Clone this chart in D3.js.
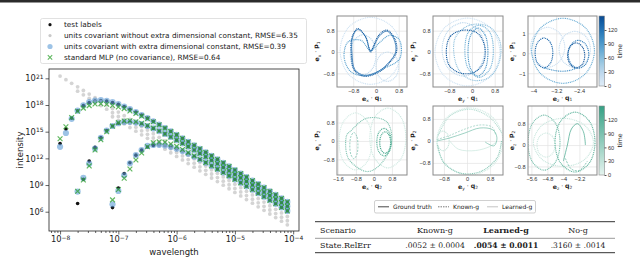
<!DOCTYPE html>
<html>
<head>
<meta charset="utf-8">
<script src="https://cdn.jsdelivr.net/npm/d3@7"></script>
<style>
  body { margin: 0; background: #fff; }
  svg { display: block; font-family: "DejaVu Sans", sans-serif; }
</style>
</head>
<body>
<div id="chart"></div>
<script>
// ---- left panel: black body intensity (log10 values) ----
const wavelength = [1.00e-8, 1.26e-8, 1.58e-8, 2.00e-8, 2.51e-8, 3.16e-8, 3.98e-8, 5.01e-8, 6.31e-8, 7.94e-8,
                    1.00e-7, 1.26e-7, 1.58e-7, 2.00e-7, 2.51e-7, 3.16e-7, 3.98e-7, 5.01e-7, 6.31e-7, 7.94e-7,
                    1.00e-6, 1.26e-6, 1.58e-6, 2.00e-6, 2.51e-6, 3.16e-6, 3.98e-6, 5.01e-6, 6.31e-6, 7.94e-6,
                    1.00e-5, 1.26e-5, 1.58e-5, 2.00e-5, 2.51e-5, 3.16e-5, 3.98e-5, 5.01e-5, 6.31e-5, 7.94e-5];
const curveStart = [0, 3, 9];   // first wavelength index of the three temperatures

const labelsHot  = [13.66,15.30,16.51,17.36,17.93,18.28,18.46,18.50,18.44,18.29,18.08,17.82,17.53,17.21,16.87,16.52,16.16,15.79,15.41,15.03,14.64,14.25,13.86,13.47,13.08,12.68,12.28,11.89,11.49,11.09,10.69,10.29,9.89,9.49,9.10,8.70,8.30,7.90,7.50,7.10];
const labelsMid  = [6.92,9.64,11.70,13.23,14.34,15.13,15.64,15.95,16.10,16.11,16.02,15.86,15.64,15.37,15.07,14.75,14.41,14.05,13.69,13.32,12.94,12.56,12.17,11.78,11.39,10.99,10.60,10.20,9.81,9.41,9.01,8.61,8.21,7.81,7.42,7.02,6.62];
const labelsCool = [6.46,8.66,10.30,11.51,12.36,12.93,13.28,13.46,13.50,13.44,13.29,13.08,12.82,12.53,12.21,11.87,11.52,11.16,10.79,10.41,10.03,9.64,9.25,8.86,8.47,8.08,7.68,7.28,6.89,6.49,6.09];

const noConstHot  = [21.25,20.85,20.44,20.04,19.63,19.23,18.82,18.42,18.01,17.61,17.20,16.80,16.39,15.99,15.58,15.18,14.77,14.37,13.96,13.56,13.15,12.75,12.34,11.94,11.53,11.13,10.72,10.32,9.91,9.51,9.10,8.70,8.29,7.89,7.48,7.08,6.67,6.27,5.86,5.46];
const noConstMid  = [19.56,19.15,18.75,18.34,17.94,17.53,17.13,16.72,16.32,15.91,15.51,15.10,14.70,14.29,13.89,13.48,13.08,12.67,12.27,11.86,11.46,11.05,10.65,10.24,9.84,9.43,9.03,8.62,8.22,7.81,7.41,7.00,6.60,6.19,5.79,5.38,4.98];
const noConstCool = [16.68,16.27,15.87,15.46,15.06,14.65,14.25,13.84,13.44,13.03,12.63,12.22,11.82,11.41,11.01,10.60,10.20,9.79,9.39,8.98,8.58,8.17,7.77,7.36,6.96,6.55,6.15,5.74,5.34,4.93,4.53];

const withConstHot  = [13.30,14.85,16.45,17.36,17.95,18.32,18.50,18.54,18.48,18.32,18.10,17.83,17.53,17.21,16.87,16.52,16.16,15.79,15.41,15.03,14.64,14.25,13.86,13.47,13.08,12.68,12.28,11.89,11.49,11.09,10.69,10.29,9.89,9.49,9.10,8.70,8.30,7.90,7.50,7.10];
const withConstMid  = [8.26,9.80,11.40,13.10,14.30,15.13,15.64,15.95,16.10,16.11,16.02,15.86,15.64,15.37,15.07,14.75,14.41,14.05,13.69,13.32,12.94,12.56,12.17,11.78,11.39,10.99,10.60,10.20,9.81,9.41,9.01,8.61,8.21,7.81,7.42,7.02,6.62];
const withConstCool = [6.84,8.34,10.10,11.45,12.38,12.94,13.40,13.50,13.52,13.46,13.30,13.08,12.82,12.53,12.21,11.87,11.52,11.16,10.79,10.41,10.03,9.64,9.25,8.86,8.47,8.08,7.68,7.28,6.89,6.49,6.09];

const mlpHot  = [14.20,15.56,16.60,17.30,17.65,17.93,18.11,18.15,18.09,17.94,17.78,17.60,17.33,17.05,16.75,16.45,16.12,15.77,15.40,15.03,14.64,14.25,13.86,13.47,13.08,12.68,12.28,11.89,11.49,11.09,10.69,10.29,9.89,9.49,9.10,8.70,8.30,7.90,7.50,7.10];
const mlpMid  = [8.30,9.57,11.15,12.95,14.10,15.00,15.62,16.02,16.20,16.22,16.12,15.95,15.70,15.40,15.08,14.75,14.41,14.05,13.69,13.32,12.94,12.56,12.17,11.78,11.39,10.99,10.60,10.20,9.81,9.41,9.01,8.61,8.21,7.81,7.42,7.02,6.62];
const mlpCool = [7.33,8.50,9.76,10.80,11.82,12.60,13.30,13.75,13.85,13.82,13.62,13.35,13.00,12.65,12.28,11.90,11.52,11.16,10.79,10.41,10.03,9.64,9.25,8.86,8.47,8.08,7.68,7.28,6.89,6.49,6.09];

const legendNames = ["test labels",
                     "units covariant without extra dimensional constant, RMSE=6.35",
                     "units covariant with extra dimensional constant, RMSE=0.39",
                     "standard MLP (no covariance), RMSE=0.64"];
const xMajor = [1e-8, 1e-7, 1e-6, 1e-5, 1e-4];
const yMajor = [1e6, 1e9, 1e12, 1e15, 1e18, 1e21];

// ---- right panels: trajectories (points in panel data units, t = time) ----
const p1Loops = [
  {t: 15, s: "dot", pts: [[0.88,0.05],[0.57,0.94],[-0.19,1.30],[-0.95,0.94],[-1.26,0.05],[-0.95,-0.85],[-0.19,-1.21],[0.57,-0.85]]},
  {t: 30, s: "dot", pts: [[0,-0.1],[-0.13,0.43],[-0.45,0.65],[-0.77,0.43],[-0.9,-0.1],[-0.77,-0.63],[-0.45,-0.85],[-0.13,-0.63]]},
  {t: 25, s: "dot", pts: [[0.8,-0.55],[0.68,-0.16],[0.4,0],[0.12,-0.16],[0,-0.55],[0.12,-0.94],[0.4,-1.1],[0.68,-0.94]]},
  {t: 85, s: "dot", pts: [[-0.19,0.06],[-0.53,0.44],[-0.98,0.38],[-1.12,-0.19],[-0.87,-0.75],[-0.30,-0.88],[0.27,-0.62],[0.83,-0.25],[0.83,0.44],[0.49,0.63],[0.15,0.38]]},
  {t: 140, s: "dot", pts: [[-0.19,0],[-0.36,0.56],[-0.64,0.88],[-0.84,0.56],[-0.87,-0.06],[-0.76,-0.69],[-0.41,-0.91],[0.10,-0.75],[0.44,-0.44],[0.72,0],[0.66,0.50],[0.38,0.82],[0.10,0.63],[-0.10,0.19]]},
  {t: 130, s: "solid", pts: [[-0.19,0.03],[-0.38,0.6],[-0.64,0.84],[-0.82,0.56],[-0.84,-0.06],[-0.74,-0.66],[-0.41,-0.87],[0.10,-0.71],[0.44,-0.40],[0.69,0],[0.63,0.48],[0.38,0.78],[0.12,0.6],[-0.08,0.2]]}
];
const p2Loops = [
  {t: 15, s: "dot", pts: [[0.98,0],[0.65,0.9],[-0.16,1.27],[-0.97,0.9],[-1.3,0],[-0.97,-0.9],[-0.16,-1.27],[0.65,-0.9]]},
  {t: 30, s: "dot", pts: [[0.45,0.1],[0.23,0.81],[-0.3,1.1],[-0.83,0.81],[-1.05,0.1],[-0.83,-0.61],[-0.3,-0.9],[0.23,-0.61]]},
  {t: 55, s: "dot", pts: [[-0.6,0.5],[-0.1,1.0],[0.6,0.95],[0.98,0.4],[0.95,-0.4],[0.6,-0.95],[0,-1.05],[-0.5,-0.6]]},
  {t: 70, s: "dot", pts: [[0.75,0.05],[0.62,0.75],[0.25,1.0],[-0.12,0.75],[-0.25,0.05],[-0.12,-0.65],[0.25,-0.95],[0.62,-0.65]]},
  {t: 95, s: "dot", pts: [[0.56,0],[0.46,0.64],[0.21,0.9],[-0.04,0.64],[-0.14,0],[-0.04,-0.64],[0.21,-0.9],[0.46,-0.64]]},
  {t: 140, s: "dot", pts: [[-0.9,0.1],[-0.75,0.6],[-0.3,0.82],[0.2,0.7],[0.45,0.2],[0.4,-0.4],[0.1,-0.75],[-0.4,-0.79],[-0.8,-0.5]]}
];
const p3Loops = [
  {t: 20, s: "dot", pts: [[-2.9,0.3],[-3.08,1.0],[-3.5,1.3],[-3.92,1.0],[-4.1,0.3],[-3.92,-0.4],[-3.5,-0.7],[-3.08,-0.4]]},
  {t: 25, s: "dot", pts: [[-2.0,0.2],[-2.16,0.84],[-2.55,1.1],[-2.94,0.84],[-3.1,0.2],[-2.94,-0.44],[-2.55,-0.7],[-2.16,-0.44]]},
  {t: 75, s: "dot", pts: [[-1.86,0.125],[-2.18,1.28],[-2.96,1.755],[-3.74,1.28],[-4.06,0.125],[-3.74,-1.03],[-2.96,-1.505],[-2.18,-1.03]]},
  {t: 130, s: "dot", pts: [[-3.32,0.02],[-3.41,0.55],[-3.63,0.77],[-3.85,0.55],[-3.94,0.02],[-3.85,-0.51],[-3.63,-0.73],[-3.41,-0.51]]},
  {t: 115, s: "dot", pts: [[-2.06,-0.05],[-2.17,0.45],[-2.42,0.65],[-2.67,0.45],[-2.78,-0.05],[-2.67,-0.55],[-2.42,-0.75],[-2.17,-0.55]]},
  {t: 145, s: "dot", pts: [[-2.2,-0.11],[-2.29,0.34],[-2.5,0.52],[-2.71,0.34],[-2.8,-0.11],[-2.71,-0.56],[-2.5,-0.74],[-2.29,-0.56]]},
  {t: 100, s: "dot", open: true, pts: [[-3.63,-0.73],[-3.3,-0.85],[-3.0,-0.9],[-2.7,-0.85],[-2.5,-0.74]]}
];
const p4Loops = [
  {t: 15, s: "dot", pts: [[-0.09,-0.02],[-0.30,0.86],[-0.82,1.22],[-1.34,0.86],[-1.55,-0.02],[-1.34,-0.90],[-0.82,-1.26],[-0.30,-0.90]]},
  {t: 20, s: "dot", pts: [[1.42,0.13],[1.19,1.05],[0.62,1.43],[0.05,1.05],[-0.18,0.13],[0.05,-0.79],[0.62,-1.17],[1.19,-0.79]]},
  {t: 85, s: "dot", pts: [[-1.07,0.40],[-0.32,0.99],[0.56,0.84],[0.79,-0.03],[0.27,-1.04],[-0.32,-1.33],[-1.14,-0.75],[-1.21,0.26]]},
  {t: 100, s: "dash", pts: [[-0.71,-0.2],[-0.76,0.2],[-0.89,0.37],[-1.02,0.2],[-1.07,-0.2],[-1.02,-0.6],[-0.89,-0.77],[-0.76,-0.6]]},
  {t: 120, s: "dot", pts: [[0.77,-0.05],[0.68,0.37],[0.45,0.55],[0.22,0.37],[0.13,-0.05],[0.22,-0.47],[0.45,-0.65],[0.68,-0.47]]},
  {t: 140, s: "dot", pts: [[0.74,-0.07],[0.67,0.26],[0.5,0.40],[0.33,0.26],[0.26,-0.07],[0.33,-0.4],[0.5,-0.54],[0.67,-0.4]]}
];
const p5Loops = [
  {t: 15, s: "dot", pts: [[1.25,-0.02],[0.91,0.84],[0.10,1.20],[-0.71,0.84],[-1.05,-0.02],[-0.71,-0.88],[0.10,-1.24],[0.91,-0.88]]},
  {t: 30, s: "dot", pts: [[-0.62,0],[-0.68,0.25],[-0.83,0.36],[-0.98,0.25],[-1.04,0],[-0.98,-0.25],[-0.83,-0.36],[-0.68,-0.25]]},
  {t: 40, s: "dot", open: true, pts: [[-1.0,0.2],[-0.6,0.9],[0.1,1.15],[0.8,0.85],[1.2,0.3]]},
  {t: 25, s: "solid", open: true, pts: [[-0.6,0],[-0.3,-0.3],[0.3,-0.35],[0.8,-0.2],[1.0,-0.05]]},
  {t: 80, s: "dot", open: true, pts: [[-1.02,-0.15],[-0.8,-0.8],[-0.2,-1.18],[0.5,-1.1],[1.05,-0.6],[1.2,0]]},
  {t: 70, s: "dash", open: true, pts: [[-1.04,0.05],[-0.6,0.2],[-0.1,0.42],[0.45,0.58],[0.88,0.5],[1.0,0.2]]},
  {t: 95, s: "solid", open: true, pts: [[-1.04,0],[-0.59,0.11],[-0.07,0.29],[0.45,0.47],[0.90,0.40],[1.04,0.11],[0.94,-0.18],[0.63,-0.04]]}
];
const p6Loops = [
  {t: 25, s: "dot", pts: [[-2.5,0.1],[-2.94,0.74],[-4.0,1.0],[-5.06,0.74],[-5.5,0.1],[-5.06,-0.54],[-4.0,-0.8],[-2.94,-0.54]]},
  {t: 20, s: "dot", pts: [[-4.42,0],[-4.55,0.32],[-4.87,0.45],[-5.19,0.32],[-5.32,0],[-5.19,-0.32],[-4.87,-0.45],[-4.55,-0.32]]},
  {t: 90, s: "dot", pts: [[-4.17,0.09],[-4.40,0.82],[-4.97,1.12],[-5.54,0.82],[-5.77,0.09],[-5.54,-0.64],[-4.97,-0.94],[-4.40,-0.64]]},
  {t: 110, s: "dot", pts: [[-2.42,0.11],[-2.71,0.90],[-3.42,1.23],[-4.13,0.90],[-4.42,0.11],[-4.13,-0.68],[-3.42,-1.01],[-2.71,-0.68]]},
  {t: 120, s: "dash", open: true, pts: [[-3.9,-0.5],[-3.6,-0.9],[-3.2,-0.95],[-2.8,-0.6]]},
  {t: 140, s: "solid", open: true, pts: [[-4.0,-0.6],[-3.8,0.0],[-3.6,0.6],[-3.3,0.8],[-3.0,0.5],[-2.9,0]]}
];

const panels = [
  {box: [337, 16, 407, 87],  xd: [-1.37, 1.09], yd: [-1.31, 1.35], xt: [-0.8, 0, 0.8], yt: [-0.8, 0, 0.8], ax: "x", n: 1, loops: p1Loops, ylx: 319},
  {box: [433, 16, 503, 87],  xd: [-1.37, 1.09], yd: [-1.31, 1.35], xt: [-0.8, 0, 0.8], yt: [-0.8, 0, 0.8], ax: "y", n: 1, loops: p2Loops, ylx: 415},
  {box: [528, 16, 597, 87],  xd: [-4.19, -1.77], yd: [-1.69, 1.87], xt: [-4, -3.2, -2.4], yt: [-1, 0, 1], ax: "z", n: 1, loops: p3Loops, ylx: 514},
  {box: [337, 106, 407, 175], xd: [-1.64, 1.47], yd: [-1.48, 1.52], xt: [-1.6, -0.8, 0, 0.8], yt: [-0.8, 0, 0.8], ax: "x", n: 2, loops: p4Loops, ylx: 319},
  {box: [433, 106, 503, 175], xd: [-1.18, 1.25], yd: [-1.24, 1.27], xt: [-0.8, 0, 0.8], yt: [-0.8, 0, 0.8], ax: "y", n: 2, loops: p5Loops, ylx: 415},
  {box: [528, 106, 597, 175], xd: [-5.77, -2.32], yd: [-1.12, 1.46], xt: [-5.6, -4.8, -4, -3.2], yt: [-0.8, 0, 0.8], ax: "z", n: 2, loops: p6Loops, ylx: 514}
];
const timeTicks = [0, 30, 60, 90, 120];
const legendRight = ["Ground truth", "Known-g", "Learned-g"];
const tableHead = ["Scenario", "Known-g", "Learned-g", "No-g"];
const tableRow  = ["State.RelErr", ".0052 \u00b1 0.0004", ".0054 \u00b1 0.0011", ".3160 \u00b1 .0014"];

// ---------------------------------------------------------------------------
const W = 640, H = 267;
const svg = d3.select("#chart").append("svg").attr("width", W).attr("height", H);

svg.append("rect").attr("x", 0).attr("y", 0).attr("width", W).attr("height", 2.5).attr("fill", "#2b2b2b");

// ----- left scatter -----
const plot = {left: 49, right: 299, top: 69, bottom: 231};
const xScale = d3.scaleLog().domain([Math.pow(10, -8.19), Math.pow(10, -3.9)]).range([plot.left, plot.right]);
const yScale = d3.scaleLog().domain([Math.pow(10, 3.83), Math.pow(10, 22.05)]).range([plot.bottom, plot.top]);

function powLabel(sel) {
  sel.each(function(d) {
    const t = d3.select(this).text(null);
    const e = Math.round(Math.log10(d));
    t.append("tspan").text("10");
    t.append("tspan").attr("dy", "-0.45em").attr("font-size", "0.72em").text(e < 0 ? "\u2212" + (-e) : e);
  });
}

const left = svg.append("g");
left.append("clipPath").attr("id", "clipL").append("rect")
  .attr("x", plot.left).attr("y", plot.top)
  .attr("width", plot.right - plot.left).attr("height", plot.bottom - plot.top);

function series(vals, start) {
  return vals.map((v, i) => ({x: wavelength[start + i], y: Math.pow(10, v)}));
}
const labelPts   = [].concat(series(labelsHot, curveStart[0]), series(labelsMid, curveStart[1]), series(labelsCool, curveStart[2]));
const noConstPts = [].concat(series(noConstHot, curveStart[0]), series(noConstMid, curveStart[1]), series(noConstCool, curveStart[2]));
const withPts    = [].concat(series(withConstHot, curveStart[0]), series(withConstMid, curveStart[1]), series(withConstCool, curveStart[2]));
const mlpPts     = [].concat(series(mlpHot, curveStart[0]), series(mlpMid, curveStart[1]), series(mlpCool, curveStart[2]));

const marks = left.append("g").attr("clip-path", "url(#clipL)");
marks.selectAll("circle.lab").data(labelPts).join("circle").attr("class", "lab")
  .attr("cx", d => xScale(d.x)).attr("cy", d => yScale(d.y)).attr("r", 1.8).attr("fill", "#111");
marks.selectAll("circle.gray").data(noConstPts).join("circle").attr("class", "gray")
  .attr("cx", d => xScale(d.x)).attr("cy", d => yScale(d.y)).attr("r", 1.9).attr("fill", "#c9c9c9").attr("opacity", 0.8);
marks.selectAll("circle.wc").data(withPts).join("circle").attr("class", "wc")
  .attr("cx", d => xScale(d.x)).attr("cy", d => yScale(d.y)).attr("r", 3.1).attr("fill", "#5b9bd5").attr("opacity", 0.6);
const xs = 2.4;
marks.selectAll("path.mlp").data(mlpPts).join("path").attr("class", "mlp")
  .attr("d", d => {
    const cx = xScale(d.x), cy = yScale(d.y);
    return `M${cx - xs},${cy - xs}L${cx + xs},${cy + xs}M${cx - xs},${cy + xs}L${cx + xs},${cy - xs}`;
  })
  .attr("stroke", "#2ca02c").attr("stroke-width", 1.2).attr("opacity", 0.75).attr("fill", "none");

// axes
const xAxis = d3.axisBottom(xScale).tickValues(xMajor).tickSize(3.5).tickPadding(2);
const gx = left.append("g").attr("transform", `translate(0,${plot.bottom})`).call(xAxis);
gx.selectAll(".tick text").call(powLabel);
const minors = [];
for (let e = -9; e <= -4; e++) for (let m = 2; m <= 9; m++) {
  const v = m * Math.pow(10, e);
  if (v > xScale.domain()[0] && v < xScale.domain()[1]) minors.push(v);
}
left.append("g").attr("transform", `translate(0,${plot.bottom})`)
  .call(d3.axisBottom(xScale).tickValues(minors).tickSize(2).tickFormat(""))
  .call(g => g.select(".domain").remove());
const gy = left.append("g").attr("transform", `translate(${plot.left},0)`)
  .call(d3.axisLeft(yScale).tickValues(yMajor).tickSize(3.5).tickPadding(2));
gy.selectAll(".tick text").call(powLabel);
left.selectAll(".tick text").attr("font-size", 8.3).attr("font-family", "DejaVu Sans").attr("fill", "#222");
left.selectAll(".tick line").attr("stroke", "#222").attr("stroke-width", 0.7);
left.selectAll(".domain").remove();
left.append("rect").attr("x", plot.left).attr("y", plot.top)
  .attr("width", plot.right - plot.left).attr("height", plot.bottom - plot.top)
  .attr("fill", "none").attr("stroke", "#222").attr("stroke-width", 0.8);

left.append("text").attr("x", (plot.left + plot.right) / 2).attr("y", 254.5)
  .attr("text-anchor", "middle").attr("font-size", 8.5).attr("fill", "#222").text("wavelength");
left.append("text").attr("transform", `translate(22.5,${(plot.top + plot.bottom) / 2}) rotate(-90)`)
  .attr("text-anchor", "middle").attr("font-size", 8.5).attr("fill", "#222").text("intensity");

// legend
const lg = left.append("g");
lg.append("rect").attr("x", 40.5).attr("y", 18.5).attr("width", 266).attr("height", 45).attr("rx", 2)
  .attr("fill", "#fff").attr("stroke", "#d9d9d9").attr("stroke-width", 0.8);
const rowsY = [24.7, 35.6, 46.5, 57.4];
lg.selectAll("text").data(legendNames).join("text")
  .attr("x", 64).attr("y", (d, i) => rowsY[i] + 2.7).attr("font-size", 7.3).attr("fill", "#222").text(d => d);
lg.append("circle").attr("cx", 50).attr("cy", rowsY[0]).attr("r", 1.6).attr("fill", "#111");
lg.append("circle").attr("cx", 50).attr("cy", rowsY[1]).attr("r", 1.6).attr("fill", "#c9c9c9");
lg.append("circle").attr("cx", 50).attr("cy", rowsY[2]).attr("r", 2.6).attr("fill", "#5b9bd5").attr("opacity", 0.6);
lg.append("path").attr("d", `M${50 - 2.2},${rowsY[3] - 2.2}L${50 + 2.2},${rowsY[3] + 2.2}M${50 - 2.2},${rowsY[3] + 2.2}L${50 + 2.2},${rowsY[3] - 2.2}`)
  .attr("stroke", "#2ca02c").attr("stroke-width", 1.1).attr("opacity", 0.75);

// ----- right trajectory panels -----
const blueColor = t => d3.interpolateBlues(0.12 + 0.78 * t / 150);
const tealColor = t => d3.interpolateRgb("#eef8f4", "#36a084")(0.05 + 0.95 * t / 150);

function vecLabel(text, ax, v, n) {
  text.append("tspan").attr("font-weight", "bold").text("e");
  text.append("tspan").attr("font-size", "0.7em").attr("dy", "0.35em").text(ax);
  text.append("tspan").attr("dy", "-0.35em").text(" \u00b7 ");
  text.append("tspan").attr("font-weight", "bold").text(v);
  text.append("tspan").attr("font-size", "0.7em").attr("dy", "0.35em").text(n);
}
const fmt = d => d === 0 ? "0" : String(d).replace("-", "\u2212");

panels.forEach((p, idx) => {
  const [x0, y0, x1, y1] = p.box;
  const color = p.n === 1 ? blueColor : tealColor;
  const g = svg.append("g");
  const x = d3.scaleLinear().domain(p.xd).range([x0, x1]);
  const y = d3.scaleLinear().domain(p.yd).range([y1, y0]);
  g.append("clipPath").attr("id", "cp" + idx).append("rect")
    .attr("x", x0).attr("y", y0).attr("width", x1 - x0).attr("height", y1 - y0);

  g.append("g").attr("transform", `translate(0,${y1})`)
    .call(d3.axisBottom(x).tickValues(p.xt).tickSize(-(y1 - y0)).tickPadding(1.8).tickFormat(fmt));
  g.append("g").attr("transform", `translate(${x0},0)`)
    .call(d3.axisLeft(y).tickValues(p.yt).tickSize(-(x1 - x0)).tickPadding(2.5).tickFormat(fmt));
  g.selectAll(".domain").remove();
  g.selectAll(".tick line").attr("stroke", "#e3e3e3").attr("stroke-width", 0.7);
  g.selectAll(".tick text").attr("font-size", 5.6).attr("fill", "#333");

  const body = g.append("g").attr("clip-path", `url(#cp${idx})`);
  p.loops.forEach(l => {
    const line = d3.line().x(d => x(d[0])).y(d => y(d[1]))
      .curve(l.open ? d3.curveCatmullRom : d3.curveCatmullRomClosed);
    body.append("path").attr("d", line(l.pts)).attr("fill", "none")
      .attr("stroke", color(l.t))
      .attr("stroke-width", l.s === "dot" ? 1.15 : 0.7)
      .attr("stroke-dasharray", l.s === "dot" ? "1,0.8" : l.s === "dash" ? "2,1.2" : null);
  });

  g.append("rect").attr("x", x0).attr("y", y0).attr("width", x1 - x0).attr("height", y1 - y0)
    .attr("fill", "none").attr("stroke", "#8a8a8a").attr("stroke-width", 1);

  const xl = g.append("text").attr("x", (x0 + x1) / 2).attr("y", y1 + 13.5).attr("text-anchor", "middle")
    .attr("font-size", 6.2).attr("fill", "#222");
  vecLabel(xl, p.ax, "q", p.n);
  const yl = g.append("text").attr("transform", `translate(${p.ylx},${(y0 + y1) / 2}) rotate(-90)`)
    .attr("text-anchor", "middle").attr("font-size", 6.2).attr("fill", "#222");
  vecLabel(yl, p.ax, "p", p.n);
});

// colorbars
[{y0: 16, y1: 86, c: blueColor, id: "cbB"}, {y0: 106, y1: 175, c: tealColor, id: "cbT"}].forEach(cb => {
  const grad = svg.append("defs").append("linearGradient").attr("id", cb.id)
    .attr("x1", 0).attr("y1", 1).attr("x2", 0).attr("y2", 0);
  d3.range(0, 151, 15).forEach(t => grad.append("stop").attr("offset", t / 150).attr("stop-color", cb.c(t)));
  const ts = d3.scaleLinear().domain([0, 150]).range([cb.y1, cb.y0]);
  svg.append("rect").attr("x", 599).attr("y", cb.y0).attr("width", 5.5).attr("height", cb.y1 - cb.y0)
    .attr("fill", `url(#${cb.id})`).attr("stroke", "#8a8a8a").attr("stroke-width", 0.6);
  const ga = svg.append("g").attr("transform", "translate(604.5,0)")
    .call(d3.axisRight(ts).tickValues(timeTicks).tickSize(2).tickPadding(1.5));
  ga.select(".domain").remove();
  ga.selectAll("text").attr("font-size", 5.6).attr("fill", "#333");
  ga.selectAll("line").attr("stroke", "#555");
  svg.append("text").attr("transform", `translate(622,${(cb.y0 + cb.y1) / 2}) rotate(-90)`)
    .attr("text-anchor", "middle").attr("font-size", 6.2).attr("fill", "#222").text("time");
});

// right legend
const rl = svg.append("g");
rl.append("rect").attr("x", 374.5).attr("y", 200.5).attr("width", 161).attr("height", 12.5).attr("rx", 1.5)
  .attr("fill", "#fff").attr("stroke", "#bbb").attr("stroke-width", 0.7);
const lgX = [378, 438, 487];
const lgStyle = [{c: "#333", w: 0.9, d: null}, {c: "#555", w: 0.8, d: "1.5,1"}, {c: "#aaa", w: 0.7, d: null}];
legendRight.forEach((name, i) => {
  rl.append("line").attr("x1", lgX[i]).attr("x2", lgX[i] + 11).attr("y1", 206.8).attr("y2", 206.8)
    .attr("stroke", lgStyle[i].c).attr("stroke-width", lgStyle[i].w).attr("stroke-dasharray", lgStyle[i].d);
  rl.append("text").attr("x", lgX[i] + 15).attr("y", 208.9).attr("font-size", 6).attr("fill", "#222").text(name);
});

// table
const tb = svg.append("g").attr("font-family", "'DejaVu Serif', serif").attr("font-size", 8).attr("fill", "#222");
const colX = [320, 435, 506, 578];
const colAnchor = ["start", "middle", "middle", "middle"];
tb.append("line").attr("x1", 315).attr("x2", 615).attr("y1", 221.7).attr("y2", 221.7).attr("stroke", "#333").attr("stroke-width", 1);
tb.append("line").attr("x1", 315).attr("x2", 615).attr("y1", 238.3).attr("y2", 238.3).attr("stroke", "#333").attr("stroke-width", 0.5);
tb.append("line").attr("x1", 315).attr("x2", 615).attr("y1", 252.7).attr("y2", 252.7).attr("stroke", "#333").attr("stroke-width", 1);
tableHead.forEach((h, i) => tb.append("text").attr("x", colX[i]).attr("y", 233).attr("text-anchor", colAnchor[i])
  .attr("font-weight", i === 2 ? "bold" : null).text(h));
tableRow.forEach((h, i) => tb.append("text").attr("x", colX[i]).attr("y", 248).attr("text-anchor", colAnchor[i])
  .attr("font-weight", i === 2 ? "bold" : null).attr("font-size", i === 0 ? 8 : 7.6).text(h));
</script>
</body>
</html>
